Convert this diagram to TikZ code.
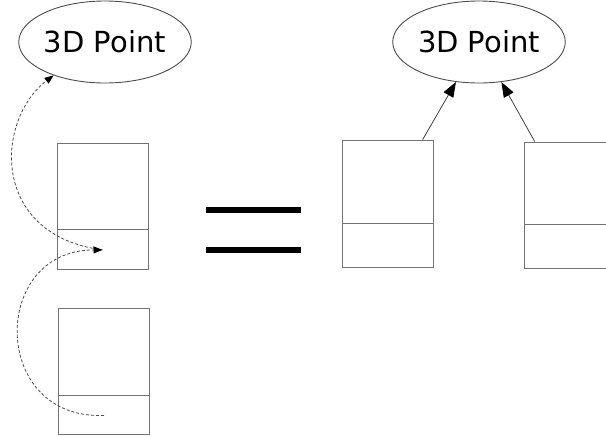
\documentclass[tikz,border=0pt]{standalone}
\usepackage{fontspec}
\setmainfont{DejaVu Sans}
\usetikzlibrary{shapes.geometric,arrows.meta,positioning}

\tikzset{
	point/.style={ellipse,draw=black!70,line width=0.9pt,minimum width=162pt,minimum height=82pt,inner sep=0pt,font=\fontsize{29}{34}\selectfont},
	part/.style={draw=black!55,line width=0.9pt,minimum width=91pt,inner sep=0pt},
	link/.style={draw=black!75,line width=0.8pt,-{Triangle[length=15pt,width=11pt,color=black]}},
	ref/.style={draw=black!70,line width=0.8pt,dash pattern=on 3pt off 2pt,-{Triangle[length=9pt,width=7pt,color=black]}}
}

\begin{document}
\begin{tikzpicture}[x=1pt,y=-1pt]
		\useasboundingbox (0,0) rectangle (606,437);

		% Shared point, referenced twice
		\node[point] (ptL) at (105,42) {3D Point};
		\node[part,minimum height=86pt] (b1t) at (102.5,186) {};
		\node[part,minimum height=40pt,below=0pt of b1t] (b1b) {};
		\node[part,minimum height=87pt] (b2t) at (104,351.5) {};
		\node[part,minimum height=39pt,below=0pt of b2t] (b2b) {};
		\draw[ref] (b1b.center) .. controls (-10,235) and (-5,120) .. (ptL.213);
		\draw[ref] (b2b.center) .. controls (-10,420) and (-10,250) .. (b1b.center);

		% Equals sign
		\fill (206,207) rectangle (301,213);
		\fill (206,247) rectangle (301,253);

		% Each part pointing to the same point
		\node[point] (ptR) at (479,42) {3D Point};
		\node[part,minimum height=83pt] (b3t) at (387.5,181.5) {};
		\node[part,minimum height=44pt,below=0pt of b3t] (b3b) {};
		\node[part,minimum height=82pt] (b4t) at (569.5,183) {};
		\node[part,minimum height=44pt,below=0pt of b4t] (b4b) {};
		\draw[link] (b3t.50) -- (ptR);
		\draw[link] (b4t.130) -- (ptR);
\end{tikzpicture}
\end{document}
